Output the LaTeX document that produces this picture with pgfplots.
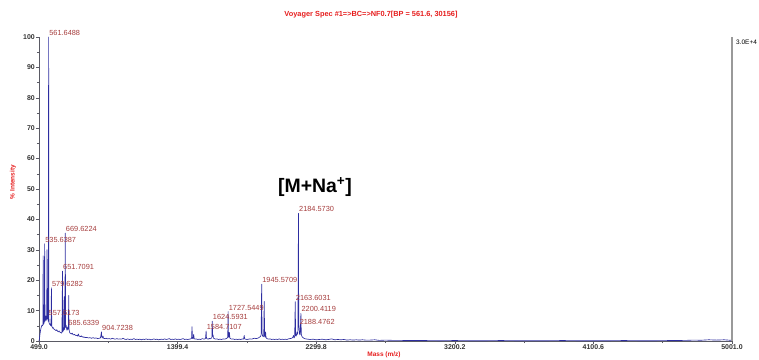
\documentclass[border=0pt]{standalone}
\usepackage{fontspec}
\setmainfont{Liberation Sans}
\usepackage{pgfplots}
\pgfplotsset{compat=1.18}
\usepackage{pgfplotstable}

\definecolor{spec}{RGB}{45,45,160}
\definecolor{pklab}{RGB}{165,60,60}
\definecolor{hdr}{RGB}{230,30,30}
\definecolor{axgray}{RGB}{90,90,100}

% m/z  vs  % intensity (stick-like profile with baseline)
\pgfplotstableread{
mz intensity
499 0
502 0.8
506 2.5
510 3.8
514 4.6
518 5.2
521 5.0
524 5.3
526 28
528 5.5
531 5.8
533 6.2
535.64 32
538 6.5
541 7.0
544 8.2
546 6.8
549 7.5
551 30
553 7.2
555 8.0
557.62 8.0
559 6.5
561.65 100
563.5 6.0
566 5.8
569 5.4
572 5.6
575 5.0
577 5.2
579.63 17.5
582 4.8
585 4.6
588 4.2
592 4.4
596 3.9
600 3.8
605 3.6
610 3.4
615 3.7
620 3.2
625 3.0
630 3.3
635 2.9
640 2.8
645 2.6
648 2.9
651.71 23
654 3.0
657 4.2
660 3.5
663 14.6
665 3.8
667 5.0
669.62 35.5
672 4.5
675 5.2
678 4.2
681 3.5
683 4.0
685.63 4.6
688 3.8
690 4.5
692 15
694 4.0
697 3.0
700 2.6
705 2.5
710 2.3
715 2.6
720 2.1
725 2.0
730 2.2
735 1.9
740 1.8
745 1.9
750 1.6
755 2.3
760 1.5
765 1.6
770 1.4
775 1.7
780 1.3
785 1.4
790 1.2
795 1.3
800 1.1
810 1.2
820 1.0
830 1.1
840 0.9
850 1.1
860 0.9
870 1.0
880 0.8
890 0.9
898 1.0
901 1.8
904.72 3.0
907 1.4
910 1.0
915 1.6
918 0.9
925 0.8
935 0.9
945 0.7
955 0.8
965 0.6
975 0.9
985 0.7
995 0.6
1005 0.8
1015 0.6
1025 0.7
1035 0.6
1045 0.9
1055 0.6
1065 0.5
1075 0.7
1085 0.5
1095 0.6
1105 0.5
1115 0.8
1125 0.5
1135 0.6
1145 0.5
1155 0.6
1165 0.4
1175 0.6
1185 0.5
1195 0.7
1205 0.5
1215 0.6
1225 0.4
1235 0.5
1245 0.7
1255 0.5
1265 0.6
1275 0.4
1285 0.5
1295 0.6
1305 0.5
1315 0.7
1325 0.5
1335 0.6
1345 0.8
1355 0.5
1365 0.6
1375 0.5
1385 0.7
1395 0.5
1405 0.6
1415 0.5
1425 0.6
1435 0.8
1445 0.5
1455 0.6
1465 0.5
1475 0.6
1485 0.7
1490 0.9
1493 4.7
1496 0.9
1500 0.7
1504 2.2
1507 0.8
1512 0.6
1520 0.7
1530 0.5
1540 0.6
1550 0.5
1560 0.8
1570 0.6
1578 0.7
1581 1.0
1584.71 3.3
1587 0.9
1592 0.7
1600 0.6
1606 0.9
1610 0.7
1615 0.8
1620 1.0
1622 1.2
1624.59 6.5
1627 1.5
1630 2.0
1632 1.0
1637 0.8
1645 0.6
1655 0.7
1665 0.5
1675 0.6
1685 0.5
1695 0.7
1705 0.6
1715 0.8
1722 1.0
1725 1.2
1727.54 9.7
1730 1.5
1733 1.2
1736 2.8
1739 1.0
1743 0.8
1750 0.6
1760 0.7
1770 0.5
1780 0.6
1790 0.5
1800 0.6
1810 0.5
1820 0.7
1828 0.6
1832 1.8
1835 0.7
1842 0.6
1850 0.5
1860 0.6
1870 0.7
1880 0.6
1890 0.8
1900 0.9
1910 0.8
1920 0.9
1930 1.2
1938 1.5
1942 2.0
1945.57 18.7
1948 2.5
1952 1.6
1956 1.4
1959 1.8
1962 13
1965 1.5
1968 1.3
1971 3.0
1974 1.1
1980 0.8
1990 0.6
2000 0.7
2010 0.5
2020 0.6
2030 0.5
2040 0.6
2050 0.5
2060 0.7
2070 0.5
2080 0.6
2090 0.5
2100 0.6
2110 0.5
2120 0.7
2130 0.8
2140 0.9
2148 1.2
2152 1.8
2156 1.0
2160 1.5
2163.60 12.9
2166 1.8
2170 1.6
2175 3.0
2178 2.2
2181 3.0
2184.57 42
2186.5 4.5
2188.48 5.0
2191 2.5
2194 2.0
2197 3.5
2200.41 9.1
2203 2.2
2207 1.5
2212 1.2
2220 0.9
2230 0.7
2245 0.6
2260 0.5
2280 0.6
2300 0.4
2320 0.5
2340 0.6
2360 0.4
2380 0.5
2400 0.7
2420 0.4
2440 0.5
2460 0.4
2480 0.5
2500 0.3
2520 0.4
2540 0.3
2560 0.4
2580 0.3
2600 0.4
2620 0.3
2650 0.3
2680 0.4
2710 0.2
2750 0.3
2800 0.2
2850 0.2
2900 0.15
3000 0.15
3100 0.1
3200 0.15
3300 0.1
3400 0.1
3500 0.15
3600 0.1
3700 0.1
3800 0.1
3900 0.15
4000 0.1
4100 0.1
4200 0.1
4300 0.15
4400 0.1
4500 0.1
4600 0.15
4700 0.2
4750 0.3
4800 0.25
4850 0.4
4900 0.3
4950 0.4
5001 0.2
}\spectrum

\begin{document}
\begin{tikzpicture}
\useasboundingbox (0,0) rectangle (759bp,360bp);
\begin{axis}[
  at={(39bp,19bp)}, anchor=south west,
  scale only axis, width=693bp, height=304bp,
  xmin=499, xmax=5001, ymin=0, ymax=100,
  axis x line*=bottom, axis y line*=left,
  axis line style={axgray, line width=0.8bp},
  xtick={499,1399.4,2299.8,3200.2,4100.6,5001},
  ytick={0,10,...,100},
  minor x tick num=1, minor y tick num=1,
  tick align=outside,
  major tick length=3bp, minor tick length=2bp,
  tick style={axgray, line width=0.5bp},
  xticklabel style={/pgf/number format/fixed, /pgf/number format/fixed zerofill,
    /pgf/number format/precision=1, /pgf/number format/1000 sep={}},
  /pgf/number format/assume math mode=true,
  tick label style={font=\fontsize{7}{8}\selectfont\bfseries, text=black!80},
  xticklabel style={inner sep=1bp, yshift=1bp},
  yticklabel style={inner sep=1bp},
  no markers,
  clip=false,
]
\addplot[spec, line width=0.65bp, line join=round] table[x=mz, y=intensity] {\spectrum};

\draw[gray!80, line width=1.4bp] (rel axis cs:1,0) -- (rel axis cs:1,1);

\begin{scope}[every node/.style={anchor=base west, inner sep=0pt, text=pklab,
    font=\fontsize{7.4}{8}\selectfont, xshift=0.5bp, yshift=1.5bp}]
\node at (axis cs:561.65,100) {561.6488};
\node at (axis cs:535.64,32) {535.6387};
\node at (axis cs:669.62,35.5) {669.6224};
\node at (axis cs:651.71,23) {651.7091};
\node at (axis cs:579.63,17.5) {579.6282};
\node at (axis cs:557.62,8.0) {557.6173};
\node at (axis cs:685.63,4.6) {685.6339};
\node at (axis cs:904.72,3.0) {904.7238};
\node at (axis cs:1584.71,3.3) {1584.7107};
\node at (axis cs:1624.59,6.5) {1624.5931};
\node at (axis cs:1727.54,9.7) {1727.5449};
\node at (axis cs:1945.57,18.7) {1945.5709};
\node at (axis cs:2184.57,42) {2184.5730};
\node at (axis cs:2163.60,12.9) {2163.6031};
\node at (axis cs:2200.41,9.1) {2200.4119};
\node at (axis cs:2188.48,5.0) {2188.4762};
\end{scope}
\end{axis}

\node[text=hdr, font=\fontsize{7.4}{8}\selectfont\bfseries] at (371bp,345bp)
  {Voyager Spec \#1=>BC=>NF0.7[BP = 561.6, 30156]};
\node[text=hdr, font=\fontsize{6.5}{7}\selectfont\bfseries, rotate=90] at (13bp,178bp)
  {\% Intensity};
\node[text=hdr, font=\fontsize{6.5}{7}\selectfont\bfseries] at (384bp,5bp)
  {Mass (m/z)};
\node[anchor=west, inner sep=0pt, font=\fontsize{6.5}{7}\selectfont] at (736bp,318bp)
  {3.0E+4};
\node[font=\fontsize{19.5}{22}\selectfont\bfseries] at (315bp,173bp)
  {[M+Na\textsuperscript{+}]};
\end{tikzpicture}
\end{document}
